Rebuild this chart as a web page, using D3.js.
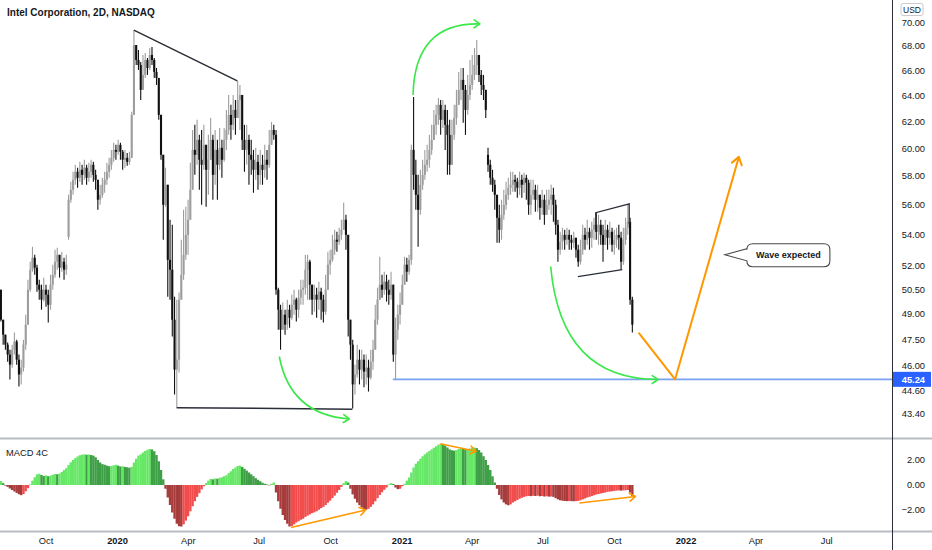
<!DOCTYPE html>
<html><head><meta charset="utf-8">
<script src="https://cdn.jsdelivr.net/npm/d3@7"></script>
<style>body{margin:0;background:#fff}svg{display:block}text{font-family:"Liberation Sans",Arial,sans-serif}</style>
</head><body><svg id="c" width="932" height="550"></svg>
<script>
// ---------- DATA ----------
const title = "Intel Corporation, 2D, NASDAQ";
const firstBarDate = "2019-08-04";   // first 2D bar
const barStepDays = 2.9;             // calendar days per 2-trading-day bar
const closes = [48.66,47.78,47.20,46.63,46.06,46.91,47.38,46.34,45.51,45.89,47.20,48.37,50.48,51.73,52.49,51.86,50.79,50.48,49.87,50.48,
50.17,49.56,50.79,51.41,52.24,52.68,51.86,52.24,51.73,52.05,56.35,57.04,57.74,58.31,57.88,58.45,58.09,58.60,57.88,58.31,
58.81,58.09,57.74,56.35,56.69,57.39,57.74,58.31,58.81,59.31,59.89,59.75,60.26,59.75,59.17,59.31,59.02,59.31,62.51,68.08,
66.85,66.44,64.45,65.64,66.85,66.20,67.26,66.85,65.88,65.40,62.51,59.53,56.00,57.39,52.36,51.73,48.66,45.78,46.34,49.87,
51.41,52.68,53.98,54.99,57.04,59.89,59.53,60.63,59.17,58.81,60.26,58.45,59.17,60.63,58.09,59.89,58.81,60.04,59.17,60.63,
61.37,62.51,61.75,62.89,62.28,63.66,64.05,60.63,59.89,60.63,59.53,59.17,58.45,59.02,58.09,58.81,58.45,59.17,58.81,60.26,
61.37,61.00,50.48,49.26,48.07,48.96,48.37,49.26,48.78,49.56,49.87,49.26,49.99,50.48,50.60,51.73,52.24,50.79,49.87,50.17,
49.87,50.36,49.87,49.14,50.48,52.05,52.36,53.01,53.66,53.53,53.98,54.32,54.99,53.98,48.66,47.20,44.96,45.51,46.34,45.78,
46.34,45.67,45.89,45.34,46.23,46.91,48.66,49.87,50.79,50.48,50.98,50.48,50.17,50.79,46.63,48.07,48.96,49.56,50.79,52.05,
51.60,52.36,59.89,58.09,56.69,55.66,57.39,58.09,58.81,59.17,59.89,60.63,61.75,62.51,63.28,62.13,62.89,61.75,61.00,58.81,
61.00,62.28,63.28,64.45,65.24,64.45,62.89,64.05,64.84,65.64,66.44,67.26,65.64,64.84,64.45,62.89,58.81,57.88,57.39,56.69,
55.12,54.32,55.32,56.00,56.69,57.18,57.39,57.74,57.60,57.18,57.74,57.39,57.88,57.53,56.00,56.69,57.04,56.35,56.69,55.80,
56.35,55.32,56.00,56.35,56.69,56.00,54.65,53.01,53.53,53.98,53.66,53.98,53.66,53.46,53.79,53.01,52.24,53.01,53.98,53.66,
54.18,53.79,54.32,54.65,54.18,54.65,53.98,53.33,54.32,53.79,54.18,53.33,53.66,53.98,53.79,52.24,53.66,54.45,54.85,49.87,
48.37];
const highs = [50.48,48.07,47.78,47.32,46.91,47.20,47.90,47.49,46.63,46.34,47.49,48.96,51.10,52.24,53.20,52.68,52.05,51.10,50.79,51.23,
50.79,50.48,51.41,52.05,53.01,53.14,52.68,52.88,52.49,52.68,56.69,57.60,58.31,58.81,58.60,59.02,58.81,59.17,58.81,58.95,
59.17,59.02,58.45,57.74,57.39,57.88,58.31,58.95,59.31,59.89,60.41,60.26,60.63,60.41,59.89,59.89,59.67,59.75,62.74,69.34,
67.83,67.67,66.69,67.26,67.42,67.01,67.83,67.91,67.01,66.20,65.40,62.51,58.81,58.60,55.19,54.99,54.65,50.05,49.87,50.30,
53.66,55.66,55.87,56.35,58.95,61.37,61.75,62.13,61.00,61.37,61.75,60.26,61.00,62.28,61.00,61.37,60.63,61.52,60.63,61.52,
62.89,64.05,63.28,64.05,63.66,65.16,64.84,63.66,61.75,61.75,61.00,60.63,59.89,60.04,59.53,59.89,59.53,60.26,59.89,61.37,
61.97,61.75,61.37,50.60,49.56,49.69,49.26,49.87,49.56,50.17,50.48,49.99,50.48,51.10,51.10,52.68,52.68,52.36,50.79,50.79,
50.60,50.98,50.60,50.17,51.41,52.88,53.01,53.98,54.32,54.18,54.45,54.99,56.14,55.32,53.66,48.66,47.49,46.06,47.20,46.91,
46.91,46.63,46.63,46.34,46.91,47.49,49.56,50.60,52.55,51.41,51.60,51.41,51.10,51.60,50.79,48.78,49.56,50.30,51.41,52.55,
52.49,52.68,60.26,63.90,59.17,58.09,58.45,59.17,59.89,60.26,61.00,61.75,62.89,63.28,63.82,63.66,63.66,63.28,62.89,62.13,
62.13,63.28,64.45,65.88,66.20,66.20,64.84,65.64,66.85,67.26,67.83,68.50,67.26,66.04,65.64,64.45,60.04,59.17,58.45,57.74,
56.69,56.00,56.35,57.04,57.60,57.88,58.31,58.31,58.09,57.88,58.31,58.09,58.24,58.09,57.74,57.74,57.74,57.39,57.39,56.69,
57.04,56.69,57.04,57.04,57.39,57.18,56.35,54.99,54.18,54.45,54.32,54.45,54.32,53.98,54.18,53.66,53.33,53.66,54.65,54.45,
54.99,54.45,54.85,55.12,55.46,55.32,54.99,54.65,54.99,54.65,54.85,54.45,54.32,54.45,54.65,54.18,54.45,55.12,56.00,55.12,
50.05];
const lows = [48.55,47.20,46.91,46.23,45.23,45.89,46.63,46.06,44.85,44.96,45.67,46.91,48.37,50.36,51.60,51.41,50.36,49.87,49.26,49.75,
49.44,48.49,49.26,50.48,51.23,51.73,51.23,51.60,51.10,51.41,53.66,56.14,56.69,57.39,57.18,57.60,57.39,57.74,57.39,57.60,
57.88,57.60,57.04,55.66,56.00,56.49,56.83,57.39,57.88,58.45,59.02,59.17,59.53,59.17,58.45,58.60,58.74,58.81,59.31,62.74,
66.44,66.04,63.66,64.45,65.40,65.64,66.04,66.44,65.40,64.84,62.13,59.17,53.66,55.87,50.05,49.87,47.67,44.41,43.71,45.62,
49.87,51.10,52.36,52.68,54.99,58.09,58.09,58.81,57.04,56.00,58.45,55.87,56.69,59.17,56.35,57.39,56.35,58.45,57.88,59.02,
59.89,61.00,60.63,61.37,61.00,62.28,61.37,59.89,58.31,58.81,57.39,58.09,56.83,57.74,57.04,57.39,57.39,57.88,57.74,58.60,
60.26,60.63,50.17,48.07,46.91,48.07,47.78,48.07,48.19,48.66,48.96,48.55,48.78,49.56,49.56,50.17,49.87,49.87,48.96,49.14,
48.78,49.26,48.66,48.49,48.96,50.48,51.41,52.24,52.68,52.88,53.33,53.66,54.32,53.01,47.67,46.34,43.65,44.41,45.34,44.96,
45.23,44.80,44.96,44.57,45.23,45.78,47.20,48.37,49.87,49.99,50.17,49.75,49.56,49.87,46.23,45.24,47.49,48.37,49.87,50.79,
50.98,51.41,52.05,57.04,55.66,53.20,55.32,57.04,57.74,58.31,58.60,59.53,60.63,61.00,61.75,61.00,61.52,59.89,58.09,58.09,
59.89,60.63,61.75,63.28,63.66,61.91,61.00,62.51,63.66,64.45,65.24,65.64,65.08,64.05,63.66,62.28,58.31,57.39,56.90,55.66,
53.46,53.46,53.66,54.99,55.66,56.35,56.69,56.90,56.90,56.49,56.69,56.49,56.83,56.35,55.32,55.32,56.35,55.52,55.52,54.99,
55.32,54.65,55.32,55.66,55.32,54.85,53.98,52.24,52.68,53.01,53.01,53.33,53.01,53.01,53.14,52.49,51.92,52.05,52.68,53.01,
53.33,53.01,53.14,53.66,53.66,53.33,53.33,52.24,53.33,53.01,53.33,52.88,52.68,53.14,53.01,51.73,52.05,53.33,53.98,49.56,
47.90];
const gapOpens = {0: 50.48, 30: 53.85, 216: 59.53};
const macd = [0.32,0.15,-0.05,-0.15,-0.28,-0.40,-0.52,-0.63,-0.74,-0.81,-0.72,-0.50,-0.25,0.05,0.35,0.62,0.85,0.90,0.80,0.72,
0.78,0.70,0.75,0.82,0.88,0.86,0.92,1.05,1.20,1.35,1.60,1.82,2.00,2.15,2.28,2.38,2.43,2.45,2.42,2.44,
2.40,2.35,2.22,2.00,1.80,1.67,1.62,1.55,1.50,1.52,1.58,1.62,1.55,1.48,1.50,1.45,1.42,1.38,1.45,1.80,
2.10,2.35,2.45,2.60,2.72,2.82,2.88,2.85,2.70,2.40,1.90,1.20,0.45,-0.30,-1.00,-1.60,-2.20,-2.70,-3.10,-3.30,
-3.32,-3.15,-2.85,-2.50,-2.10,-1.70,-1.30,-0.95,-0.65,-0.35,-0.10,0.15,0.35,0.48,0.45,0.52,0.50,0.58,0.62,0.70,
0.78,0.95,1.10,1.28,1.40,1.52,1.55,1.45,1.30,1.15,1.00,0.85,0.70,0.55,0.42,0.30,0.18,0.10,0.05,-0.03,
0.10,0.20,-0.60,-1.30,-1.90,-2.40,-2.80,-3.10,-3.32,-3.28,-3.15,-3.00,-2.90,-2.78,-2.70,-2.55,-2.45,-2.35,-2.25,-2.18,
-2.10,-1.98,-1.85,-1.75,-1.60,-1.42,-1.25,-1.05,-0.85,-0.62,-0.40,-0.15,0.15,0.32,0.20,-0.30,-0.75,-1.10,-1.40,-1.62,
-1.80,-1.92,-1.97,-1.90,-1.75,-1.55,-1.30,-1.05,-0.80,-0.58,-0.38,-0.20,0.05,0.15,0.08,-0.20,-0.33,-0.30,-0.10,0.10,
0.35,0.60,1.00,1.40,1.70,1.90,2.10,2.30,2.45,2.60,2.72,2.85,2.98,3.10,3.22,3.29,3.25,3.15,3.00,2.85,
2.78,2.75,2.80,2.88,2.95,2.90,2.85,2.88,2.92,2.96,3.00,2.95,2.80,2.60,2.30,2.00,1.60,1.20,0.70,0.20,
-0.30,-0.80,-1.15,-1.40,-1.55,-1.62,-1.55,-1.40,-1.30,-1.20,-1.10,-1.02,-0.95,-0.90,-0.88,-0.89,-0.86,-0.88,-0.85,-0.90,
-0.88,-0.92,-0.90,-0.93,-0.92,-0.95,-1.05,-1.15,-1.22,-1.26,-1.28,-1.29,-1.28,-1.29,-1.30,-1.29,-1.27,-1.22,-1.15,-1.08,
-1.00,-0.95,-0.88,-0.82,-0.76,-0.72,-0.68,-0.64,-0.60,-0.55,-0.52,-0.50,-0.47,-0.45,-0.43,-0.45,-0.43,-0.42,-0.40,-0.60,
-0.89];
const priceTicks = [70, 68, 66, 64, 62, 60, 58, 56, 54, 52, 50.5, 49, 47.5, 46, 44.6, 43.4];
const macdTicks = [2, 0, -2];
const timeTickDates = ["2019-10-01","2020-01-01","2020-04-01","2020-07-01","2020-10-01","2021-01-01","2021-04-01","2021-07-01","2021-10-01","2022-01-01","2022-04-01","2022-07-01"];
const timeTickLabels = ["Oct","2020","Apr","Jul","Oct","2021","Apr","Jul","Oct","2022","Apr","Jul"];
const markedPrice = 45.24;
const markedFrom = "2020-12-20";
// drawings (date, value)
const topTrend = [["2020-01-22", 69.34], ["2020-06-03", 65.16]];
const bottomTrend = [["2020-03-17", 43.70], ["2020-10-29", 43.62]];
const greenArcs = [
  [["2020-07-27", 46.52], ["2020-08-10", 43.33], ["2020-10-25", 43.10]],
  [["2021-01-15", 64.05], ["2021-01-17", 70.00], ["2021-04-11", 69.86]],
  [["2021-07-11", 51.92], ["2021-07-24", 45.23], ["2021-11-26", 45.23]]
];
const orangePath = [["2021-11-01", 47.90], ["2021-12-18", 45.24], ["2022-03-10", 59.38]];
const flagLines = [
  [["2021-09-07", 54.20], ["2021-09-07", 55.46], ["2021-10-20", 56.07], ["2021-10-20", 54.70]],
  [["2021-08-15", 51.29], ["2021-10-11", 51.73]]
];
const calloutText = "Wave expected";
const calloutTip = ["2022-02-20", 52.68];
const macdArrows = [
  [["2021-02-19", 3.30], ["2021-04-06", 2.70]],
  [["2020-08-11", -3.40], ["2020-11-15", -2.00]],
  [["2021-08-17", -1.44], ["2021-10-28", -0.92]]
];

// ---------- SETUP ----------
const W = 932, H = 550, AX = 892, PANE1_B = 438, PANE2_T = 439, PANE2_B = 531;
const parse = d3.timeParse("%Y-%m-%d");
const svg = d3.select("#c");
const x = d3.scaleTime().domain([parse("2019-10-01"), parse("2022-01-01")]).range([46, 686]);
const y = d3.scaleLog().domain([43.4, 70]).range([413.3, 22.3]);
const ym = d3.scaleLinear().domain([-2, 2]).range([510, 460]);
const t0 = parse(firstBarDate).getTime();
const bars = closes.map((c, i) => {
  const o = gapOpens[i] !== undefined ? gapOpens[i] : closes[i - 1];
  return {date: new Date(t0 + i * barStepDays * 864e5), o, c,
          h: Math.max(highs[i], o, c), l: Math.min(lows[i], o, c), m: macd[i], pm: i ? macd[i - 1] : macd[i]};
});
const P = d => [x(parse(d[0])), y(d[1])];
const PM = d => [x(parse(d[0])), ym(d[1])];

const defs = svg.append("defs");
defs.append("clipPath").attr("id", "c1").append("rect").attr("x", 0).attr("y", 0).attr("width", AX).attr("height", PANE1_B);
defs.append("clipPath").attr("id", "c2").append("rect").attr("x", 0).attr("y", PANE2_T).attr("width", AX).attr("height", PANE2_B - PANE2_T);

svg.append("rect").attr("width", W).attr("height", H).attr("fill", "#fff");

// ---------- CANDLES ----------
const g1 = svg.append("g").attr("clip-path", "url(#c1)");
const upCol = "#9d9d9d", dnCol = "#111";
const cg = g1.append("g");
cg.selectAll("line.w").data(bars).join("line")
  .attr("x1", d => x(d.date)).attr("x2", d => x(d.date))
  .attr("y1", d => y(d.h)).attr("y2", d => y(d.l))
  .attr("stroke", d => d.c >= d.o ? upCol : dnCol).attr("stroke-width", 1.1);
cg.selectAll("rect.b").data(bars).join("rect")
  .attr("x", d => x(d.date) - 1.05).attr("width", 2.1)
  .attr("y", d => y(Math.max(d.o, d.c)))
  .attr("height", d => Math.max(1, y(Math.min(d.o, d.c)) - y(Math.max(d.o, d.c))))
  .attr("fill", d => d.c >= d.o ? upCol : dnCol);

// ---------- DRAWINGS ----------
function arrowHead(g, tip, from, color, w, len) {
  const a = Math.atan2(tip[1] - from[1], tip[0] - from[0]);
  const s = 0.6;
  const p1 = [tip[0] - len * Math.cos(a - s), tip[1] - len * Math.sin(a - s)];
  const p2 = [tip[0] - len * Math.cos(a + s), tip[1] - len * Math.sin(a + s)];
  g.append("path").attr("d", `M${p1}L${tip}L${p2}`).attr("fill", "none").attr("stroke", color).attr("stroke-width", w)
    .attr("stroke-linecap", "round").attr("stroke-linejoin", "round");
}
const line = d3.line();
const trendCol = "#2a2e39";
[topTrend, bottomTrend].forEach(t => g1.append("path").attr("d", line(t.map(P))).attr("fill", "none").attr("stroke", trendCol).attr("stroke-width", 1.5));
flagLines.forEach(t => g1.append("path").attr("d", line(t.map(P))).attr("fill", "none").attr("stroke", trendCol).attr("stroke-width", 1.3));

// blue level line
g1.append("line").attr("x1", x(parse(markedFrom))).attr("x2", AX).attr("y1", y(markedPrice)).attr("y2", y(markedPrice))
  .attr("stroke", "#7aa1f2").attr("stroke-width", 1.6);

const green = "#3be84a";
greenArcs.forEach(a => {
  const [s, c, e] = a.map(P);
  g1.append("path").attr("d", `M${s}Q${c} ${e}`).attr("fill", "none").attr("stroke", green).attr("stroke-width", 1.6);
  arrowHead(g1, e, c, green, 1.6, 7);
});
const orange = "#ff9800";
const op = orangePath.map(P);
g1.append("path").attr("d", line(op)).attr("fill", "none").attr("stroke", orange).attr("stroke-width", 2).attr("stroke-linejoin", "round");
arrowHead(g1, op[2], op[1], orange, 2, 9);

// callout
{
  const [tx, ty] = P(calloutTip);
  const x0 = tx + 22, x1 = tx + 105, y0 = ty - 11, y1 = ty + 12, r = 6;
  const d = `M${x0 + r},${y0}H${x1 - r}Q${x1},${y0} ${x1},${y0 + r}V${y1 - r}Q${x1},${y1} ${x1 - r},${y1}H${x0 + r}Q${x0},${y1} ${x0},${y1 - r}V${ty + 6}L${tx},${ty}L${x0},${ty - 6}V${y0 + r}Q${x0},${y0} ${x0 + r},${y0}Z`;
  g1.append("path").attr("d", d).attr("fill", "#fff").attr("stroke", "#4a4a4a").attr("stroke-width", 1.1);
  g1.append("text").attr("x", (x0 + x1) / 2).attr("y", ty + 3.5).attr("text-anchor", "middle")
    .attr("font-size", 9).attr("font-weight", "bold").attr("fill", "#131722").text(calloutText);
}

// ---------- MACD ----------
const g2 = svg.append("g").attr("clip-path", "url(#c2)");
const mcol = d => d.m >= 0 ? (d.m >= d.pm ? "#66e866" : "#3f9f47") : (d.m <= d.pm ? "#a63c3c" : "#f24d4d");
g2.selectAll("rect").data(bars).join("rect")
  .attr("x", d => x(d.date) - 1.2).attr("width", 2.4)
  .attr("y", d => Math.min(ym(0), ym(d.m))).attr("height", d => Math.abs(ym(d.m) - ym(0)))
  .attr("fill", mcol);
macdArrows.forEach(a => {
  const pts = a.map(PM);
  g2.append("path").attr("d", line(pts)).attr("fill", "none").attr("stroke", orange).attr("stroke-width", 1.6);
  arrowHead(g2, pts[1], pts[0], orange, 1.6, 7);
});

// ---------- FRAME & AXES ----------
svg.append("line").attr("x1", 0).attr("x2", W).attr("y1", PANE1_B + 0.5).attr("y2", PANE1_B + 0.5).attr("stroke", "#b8bbc2").attr("stroke-width", 2);
svg.append("line").attr("x1", 0).attr("x2", W).attr("y1", PANE2_B + 0.5).attr("y2", PANE2_B + 0.5).attr("stroke", "#b8bbc2").attr("stroke-width", 2);
svg.append("line").attr("x1", AX + 0.5).attr("x2", AX + 0.5).attr("y1", 0).attr("y2", H).attr("stroke", "#2a2e39").attr("stroke-width", 1);

const fmt = d3.format(".2f");
const lab = "#131722";
svg.append("g").selectAll("text").data(priceTicks).join("text")
  .attr("x", 925).attr("y", d => y(d)).attr("dy", "0.35em").attr("text-anchor", "end")
  .attr("font-size", 9.3).attr("fill", lab).text(fmt);
svg.append("g").selectAll("text").data(macdTicks).join("text")
  .attr("x", 925).attr("y", d => ym(d)).attr("dy", "0.35em").attr("text-anchor", "end")
  .attr("font-size", 9.3).attr("fill", lab).text(fmt);
// USD box
svg.append("rect").attr("x", 901).attr("y", 3.5).attr("width", 22).attr("height", 12).attr("rx", 2)
  .attr("fill", "#fff").attr("stroke", "#c8cad0");
svg.append("text").attr("x", 912).attr("y", 12.5).attr("text-anchor", "middle").attr("font-size", 8.5).attr("fill", lab).text("USD");
// marked price label
svg.append("rect").attr("x", AX + 1).attr("y", y(markedPrice) - 7.5).attr("width", 38).attr("height", 15).attr("fill", "#2962ff");
svg.append("text").attr("x", 925).attr("y", y(markedPrice)).attr("dy", "0.35em").attr("text-anchor", "end")
  .attr("font-size", 9.3).attr("font-weight", "bold").attr("fill", "#fff").text(fmt(markedPrice));

// time axis
svg.append("g").selectAll("text").data(timeTickDates).join("text")
  .attr("x", d => x(parse(d))).attr("y", 544).attr("text-anchor", "middle")
  .attr("font-size", 9.3).attr("fill", lab)
  .attr("font-weight", (d, i) => /^\d{4}$/.test(timeTickLabels[i]) ? "bold" : "normal")
  .text((d, i) => timeTickLabels[i]);

// titles
svg.append("text").attr("x", 7).attr("y", 16).attr("font-size", 10).attr("font-weight", "bold").attr("fill", lab).text(title);
svg.append("text").attr("x", 6).attr("y", 456).attr("font-size", 9.3).attr("fill", lab).text("MACD 4C");
</script></body></html>
